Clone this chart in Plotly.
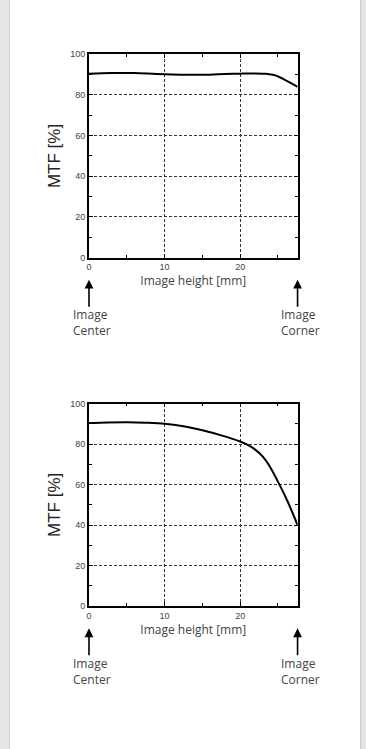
import plotly.graph_objects as go

W, H = 366, 749

# Data
top_x = [0, 3, 6, 9, 12, 14, 16, 18, 20, 22, 23.5, 24.5, 26, 27.6]
top_y = [90.5, 90.8, 90.8, 90.3, 90.0, 89.9, 90.0, 90.3, 90.5, 90.6, 90.4, 89.8, 87.3, 84.0]

bot_x = [0, 2.5, 5, 7.5, 10, 12.5, 15, 17.5, 20, 21, 22, 23, 24, 25, 26, 27, 27.6]
bot_y = [90.4, 90.7, 90.8, 90.6, 90.1, 88.8, 86.8, 84.3, 81.3, 79.6, 77.3, 73.8, 68.5, 61.5, 54.0, 45.5, 40.0]

x_ticks = [0, 10, 20]
y_ticks = [0, 20, 40, 60, 80, 100]
x_title = "Image height [mm]"
y_title = "MTF [%]"
left_label = "Image<br>Center"
right_label = "Image<br>Corner"

# Layout (pixels)
PX_L, PX_R = 86.7, 297.0
panels = [(50.0, 256.0), (404.0, 609.3)]

def px(x):
    return x / W

def py(y):
    return 1 - y / H

fig = go.Figure()

tick_font = dict(family="Liberation Sans, Arial, sans-serif", size=9, color="#444")
text_family = "Open Sans, Noto Sans, sans-serif"

for i, (xs, ys) in enumerate([(top_x, top_y), (bot_x, bot_y)]):
    n = "" if i == 0 else str(i + 1)
    fig.add_trace(go.Scatter(x=xs, y=ys, mode="lines", line=dict(color="black", width=2, shape="spline", smoothing=1),
                             xaxis="x" + n, yaxis="y" + n, showlegend=False, hoverinfo="skip"))
    top, bottom = panels[i]
    common = dict(showline=True, linecolor="black", linewidth=1.6, mirror="allticks",
                  ticks="inside", ticklen=4, tickcolor="black", tickwidth=1,
                  showgrid=True, gridcolor="#333", gridwidth=1, griddash="3px,2px",
                  zeroline=False, tickfont=tick_font)
    fig.update_layout(**{
        "xaxis" + n: dict(domain=[px(PX_L), px(PX_R)], range=[0, 27.6], tickvals=x_ticks,
                          anchor="y" + n,
                          minor=dict(tickvals=[5, 15, 25], ticks="inside", ticklen=3, tickcolor="black", showgrid=False),
                          title=dict(text=x_title, standoff=1,
                                     font=dict(family=text_family, size=12, color="#444")),
                          **common),
        "yaxis" + n: dict(domain=[py(bottom), py(top)], range=[0, 100], tickvals=y_ticks,
                          anchor="x" + n,
                          minor=dict(tickvals=[10, 30, 50, 70, 90], ticks="inside", ticklen=3, tickcolor="black", showgrid=False),
                          title=dict(text=y_title, standoff=5,
                                     font=dict(family="Liberation Sans, Arial, sans-serif", size=17, color="#222")),
                          **common),
    })

annotations = []
for i, (top, bottom) in enumerate(panels):
    head = bottom + 22.5
    tail = bottom + 51
    for xp in (PX_L, PX_R):
        annotations.append(dict(x=px(xp), y=py(head), xref="paper", yref="paper", text="",
                                showarrow=True, axref="pixel", ayref="pixel", ax=0, ay=tail - head,
                                arrowhead=2, arrowsize=1.1, arrowwidth=1.6, arrowcolor="black"))
    tc = bottom + 66
    annotations.append(dict(x=px(69), y=py(tc), xref="paper", yref="paper", text=left_label, showarrow=False,
                            xanchor="left", yanchor="middle", align="left",
                            font=dict(family=text_family, size=12, color="#444")))
    annotations.append(dict(x=px(278.5), y=py(tc), xref="paper", yref="paper", text=right_label, showarrow=False,
                            xanchor="left", yanchor="middle", align="left",
                            font=dict(family=text_family, size=12, color="#444")))

fig.update_layout(
    width=W, height=H, margin=dict(l=0, r=0, t=0, b=0),
    paper_bgcolor="#e6e5e1", plot_bgcolor="white",
    annotations=annotations,
    shapes=[dict(type="rect", xref="paper", yref="paper", x0=px(6.5), x1=px(360.5), y0=-0.01, y1=1.01,
                 fillcolor="white", line=dict(color="#cccccc", width=1), layer="below")],
)

fig.write_html("out.html", config={"displayModeBar": False},
               post_script="document.body.style.margin='0';document.body.style.overflow='hidden';")
